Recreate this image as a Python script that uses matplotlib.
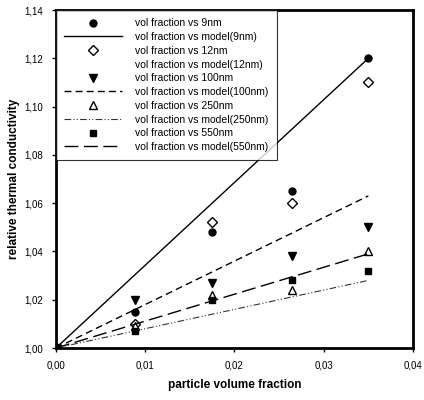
import matplotlib
matplotlib.use("Agg")
import matplotlib.pyplot as plt
from matplotlib.ticker import FuncFormatter, MultipleLocator

plt.rcParams['font.family'] = ['Liberation Sans', 'DejaVu Sans']

# particle volume fractions used for every series
vol_frac = [0.0, 0.0088, 0.0175, 0.0265, 0.035]

# measured relative thermal conductivity
k_9nm = [1.000, 1.015, 1.048, 1.065, 1.120]
k_12nm = [1.000, 1.010, 1.052, 1.060, 1.110]
k_100nm = [1.000, 1.020, 1.027, 1.038, 1.050]
k_250nm = [1.000, 1.009, 1.022, 1.024, 1.040]
k_550nm = [1.000, 1.007, 1.020, 1.028, 1.032]

# model lines (start and end values)
model_x = [0.0, 0.035]
model_9nm = [1.000, 1.120]
model_100nm = [1.000, 1.063]
model_250nm = [1.000, 1.028]
model_550nm = [1.000, 1.039]

fig = plt.figure(figsize=(4.24, 4.0), dpi=100)
ax = fig.add_axes([0.132, 0.13, 0.842, 0.845])

ax.plot(vol_frac, k_9nm, 'o', color='black', ms=5, label='vol fraction vs 9nm')
ax.plot(model_x, model_9nm, '-', color='black', lw=1.0, label='vol fraction vs model(9nm)')
ax.plot(vol_frac, k_12nm, 'D', mfc='white', mec='black', mew=1.0, ms=5,
        label='vol fraction vs 12nm')
ax.plot([], [], linestyle='none', label='vol fraction vs model(12nm)')
ax.plot(vol_frac, k_100nm, 'v', color='black', ms=5.5, label='vol fraction vs 100nm')
ax.plot(model_x, model_100nm, color='black', lw=1.0, dashes=(5, 3),
        label='vol fraction vs model(100nm)')
ax.plot(vol_frac, k_250nm, '^', mfc='white', mec='black', mew=1.0, ms=5.5,
        label='vol fraction vs 250nm')
ax.plot(model_x, model_250nm, color='#333333', lw=0.8, dashes=(6, 2, 1, 2, 1, 2),
        label='vol fraction vs model(250nm)')
ax.plot(vol_frac, k_550nm, 's', color='black', ms=4.5, label='vol fraction vs 550nm')
ax.plot(model_x, model_550nm, color='black', lw=1.0, dashes=(10, 4),
        label='vol fraction vs model(550nm)')

ax.set_xlim(0, 0.04)
ax.set_ylim(1.0, 1.14)
ax.xaxis.set_major_locator(MultipleLocator(0.01))
ax.yaxis.set_major_locator(MultipleLocator(0.02))
ax.xaxis.set_major_formatter(FuncFormatter(lambda v, p: f'{v:.2f}'.replace('.', ',')))
ax.yaxis.set_major_formatter(FuncFormatter(lambda v, p: f'{v:.2f}'.replace('.', ',')))
ax.tick_params(direction='out', length=3, width=1, labelsize=7, pad=6)

for s in ax.spines.values():
    s.set_linewidth(2)

ax.set_xlabel('particle volume fraction', fontsize=8.5, fontweight='bold', labelpad=6)
ax.set_ylabel('relative thermal conductivity', fontsize=8.5, fontweight='bold', labelpad=3)

leg = ax.legend(loc='upper left', borderaxespad=0, fontsize=7.5, handlelength=5.5,
                fancybox=False, frameon=True, edgecolor='black', labelspacing=0.36,
                handletextpad=1.3, borderpad=0.8)
leg.get_frame().set_linewidth(0.8)

fig.savefig('out.png', dpi=100)
